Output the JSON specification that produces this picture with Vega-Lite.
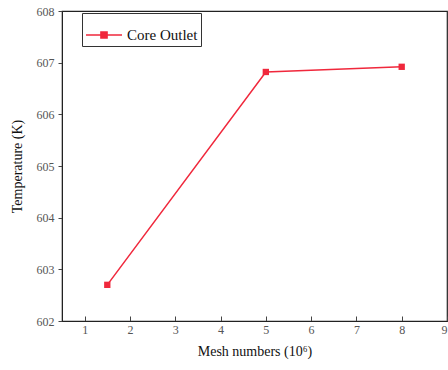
{
  "$schema": "https://vega.github.io/schema/vega-lite/v6.json",
  "width": 385,
  "height": 310,
  "autosize": {"type": "none"},
  "padding": {"left": 62, "top": 11, "right": 1, "bottom": 49},
  "background": "white",
  "config": {
    "font": "DejaVu Serif",
    "view": {"stroke": "#222", "strokeWidth": 1.2},
    "axis": {"grid": false, "domainColor": "#222", "tickColor": "#444", "labelColor": "#555", "labelFont": "Liberation Serif", "labelFontSize": 12, "titleFont": "Liberation Serif", "titleFontSize": 14, "titleFontWeight": "normal", "titleColor": "#111"},
    "legend": {"labelFont": "Liberation Serif", "titleFont": "Liberation Serif"}
  },
  "data": {"values": [
    {"mesh": 1.5, "temp": 602.7, "series": "Core Outlet"},
    {"mesh": 5, "temp": 606.82, "series": "Core Outlet"},
    {"mesh": 8, "temp": 606.92, "series": "Core Outlet"}
  ]},
  "mark": {"type": "line", "strokeWidth": 1.5, "point": {"shape": "square", "size": 40, "filled": true}},
  "encoding": {
    "x": {"field": "mesh", "type": "quantitative", "scale": {"domain": [0.5, 9], "nice": false, "zero": false}, "axis": {"values": [1,2,3,4,5,6,7,8,9], "ticks": true, "tickSize": -5, "labelPadding": 8, "title": "Mesh numbers (10⁶)", "titlePadding": 9}},
    "y": {"field": "temp", "type": "quantitative", "scale": {"domain": [602, 608], "nice": false, "zero": false}, "axis": {"values": [602,603,604,605,606,607,608], "format": "d", "tickSize": 4, "labelPadding": 4, "title": "Temperature (K)", "titlePadding": 12}},
    "color": {"field": "series", "type": "nominal", "scale": {"range": ["#f0283c"]}, "legend": {"orient": "none", "legendX": 20, "legendY": 2, "title": null, "strokeColor": "#333", "padding": 3, "symbolType": "M-1,0H1M-0.17,-0.17H0.17V0.17H-0.17Z", "symbolSize": 1300, "symbolStrokeWidth": 1.5, "symbolFillColor": "#f0283c", "labelFontSize": 15, "labelColor": "#111", "labelFont": "Liberation Serif"}}
  }
}
